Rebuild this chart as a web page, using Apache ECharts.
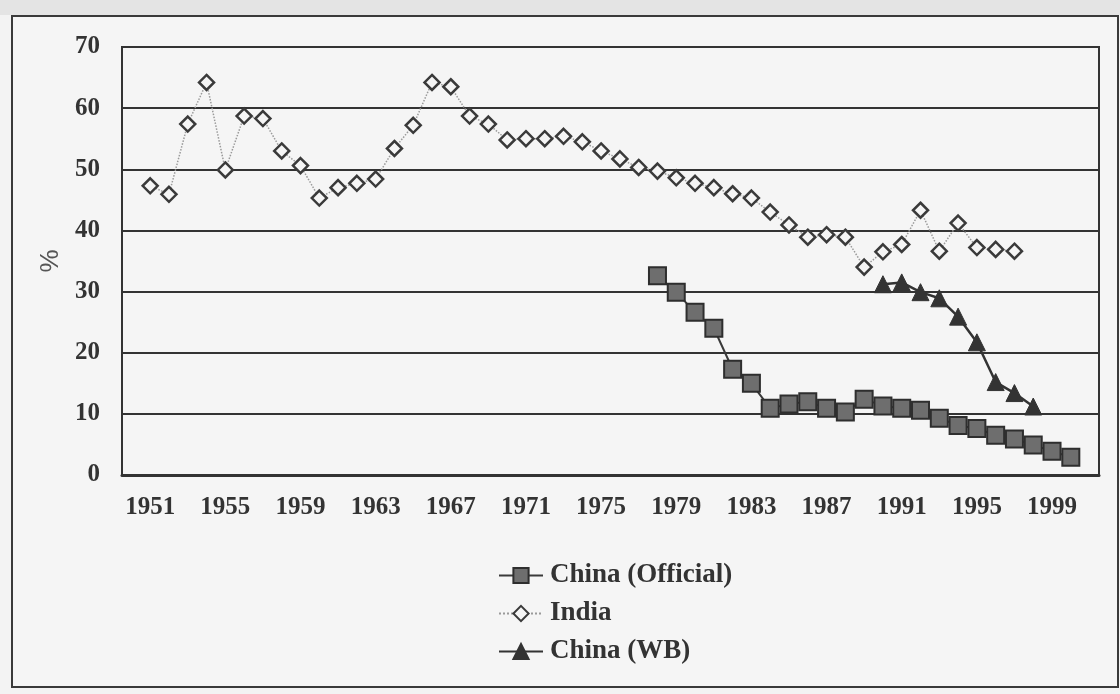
<!DOCTYPE html>
<html>
<head>
<meta charset="utf-8">
<script src="https://cdn.jsdelivr.net/npm/echarts@6/dist/echarts.min.js"></script>
<style>
html,body{margin:0;padding:0;background:#f3f3f3;}
#c{width:1120px;height:694px;}
</style>
</head>
<body>
<div id="c"></div>
<script>
var years = ['1950','1951','1952','1953','1954','1955','1956','1957','1958','1959',
  '1960','1961','1962','1963','1964','1965','1966','1967','1968','1969',
  '1970','1971','1972','1973','1974','1975','1976','1977','1978','1979',
  '1980','1981','1982','1983','1984','1985','1986','1987','1988','1989',
  '1990','1991','1992','1993','1994','1995','1996','1997','1998','1999',
  '2000','2001'];

var indiaYears = ['1951','1952','1953','1954','1955','1956','1957','1958','1959','1960',
  '1961','1962','1963','1964','1965','1966','1967','1968','1969','1970',
  '1971','1972','1973','1974','1975','1976','1977','1978','1979','1980',
  '1981','1982','1983','1984','1985','1986','1987','1988','1989','1990',
  '1991','1992','1993','1994','1995','1996','1997'];
var indiaValues = [47.3,45.9,57.4,64.2,49.9,58.7,58.3,53.0,50.6,45.3,
  47.0,47.7,48.4,53.4,57.2,64.2,63.5,58.7,57.4,54.8,
  55.0,55.0,55.4,54.5,53.0,51.7,50.3,49.7,48.6,47.7,
  47.0,46.0,45.3,43.0,40.9,38.9,39.3,38.9,34.0,36.5,
  37.7,43.3,36.6,41.2,37.2,36.9,36.6];

var chinaOffYears = ['1978','1979','1980','1981','1982','1983','1984','1985','1986','1987',
  '1988','1989','1990','1991','1992','1993','1994','1995','1996','1997',
  '1998','1999','2000'];
var chinaOffValues = [32.6,29.9,26.6,24.0,17.3,15.0,10.9,11.6,12.0,10.9,
  10.3,12.4,11.3,10.9,10.6,9.3,8.1,7.6,6.5,5.9,
  4.9,3.9,2.9];

var chinaWBYears = ['1990','1991','1992','1993','1994','1995','1996','1997','1998'];
var chinaWBValues = [31.2,31.5,29.9,28.9,25.9,21.7,15.2,13.4,11.2];

var yTicks = [0,10,20,30,40,50,60,70];

function pairs(xs, vs){ return xs.map(function(x,i){ return [x, vs[i]]; }); }

var serif = '"Liberation Serif","Times New Roman",serif';
var chart = echarts.init(document.getElementById('c'));
chart.setOption({
  backgroundColor: '#f3f3f3',
  animation: false,
  graphic: [
    {type:'rect', z:-10, shape:{x:0,y:0,width:1120,height:15}, style:{fill:'#e4e4e4'}},
    {type:'rect', z:-5, shape:{x:12,y:16,width:1106,height:671}, style:{fill:'#f5f5f5', stroke:'#3a3a3a', lineWidth:2}}
  ],
  grid: {left:122, top:47, right:21, bottom:219, show:true, borderColor:'#333', borderWidth:2, backgroundColor:'transparent'},
  legend: {
    orient:'vertical', left:493, top:557, itemWidth:44, itemHeight:19, itemGap:11,
    textStyle:{fontFamily:serif, fontWeight:'bold', fontSize:27, color:'#333', padding:[0,0,0,2]},
    data:['China (Official)','India','China (WB)']
  },
  xAxis: {
    type:'category', data: years, boundaryGap:true,
    axisLine:{show:true, lineStyle:{color:'#333', width:3}},
    axisTick:{show:false},
    axisLabel:{interval:function(i){ return (i-1)%4===0; }, margin:20, fontFamily:serif, fontWeight:'bold', fontSize:25, color:'#333'},
    splitLine:{show:false}
  },
  yAxis: {
    type:'value', min:yTicks[0], max:yTicks[yTicks.length-1], interval:10,
    name:'%', nameLocation:'middle', nameGap:58, nameRotate:90,
    nameTextStyle:{fontFamily:'"Liberation Sans",sans-serif', fontSize:26, color:'#555'},
    axisLine:{show:true, lineStyle:{color:'#333', width:2}},
    axisTick:{show:false},
    axisLabel:{margin:22, fontFamily:serif, fontWeight:'bold', fontSize:25, color:'#333'},
    splitLine:{show:true, lineStyle:{color:'#333', width:2}}
  },
  series: [
    {name:'China (Official)', type:'line', data: pairs(chinaOffYears, chinaOffValues),
     symbol:'rect', symbolSize:17, z:3, showAllSymbol:true,
     lineStyle:{color:'#3a3a3a', width:2},
     itemStyle:{color:'#6e6e6e', borderColor:'#2e2e2e', borderWidth:2}},
    {name:'India', type:'line', data: pairs(indiaYears, indiaValues),
     symbol:'diamond', symbolSize:15, z:2, showAllSymbol:true,
     lineStyle:{color:'#9a9a9a', width:1.5, type:'dotted'},
     itemStyle:{color:'#f5f5f5', borderColor:'#3a3a3a', borderWidth:2.5}},
    {name:'China (WB)', type:'line', data: pairs(chinaWBYears, chinaWBValues),
     symbol:'triangle', symbolSize:17, z:4, showAllSymbol:true,
     lineStyle:{color:'#333', width:2.5},
     itemStyle:{color:'#333', borderColor:'#333', borderWidth:1}}
  ]
});
</script>
</body>
</html>
